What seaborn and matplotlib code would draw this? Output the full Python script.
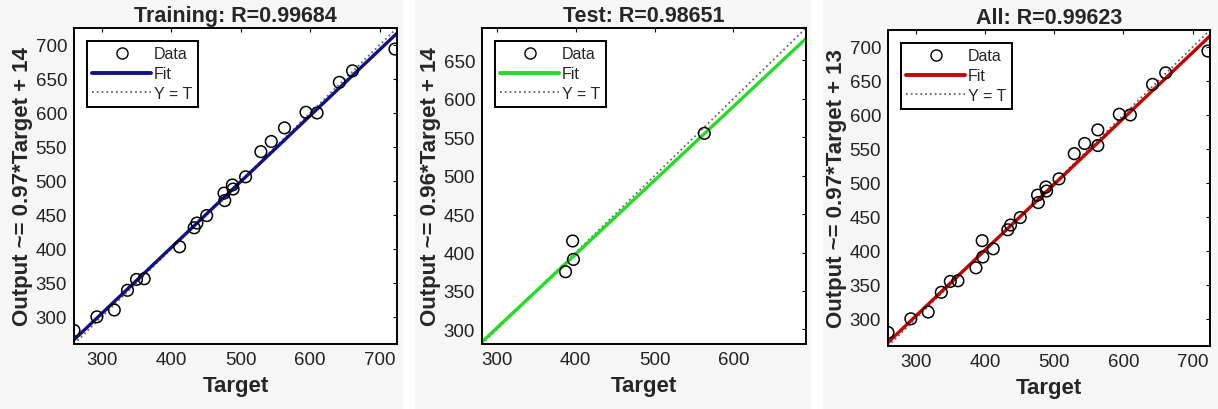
import matplotlib
matplotlib.use("Agg")
import matplotlib.pyplot as plt
from matplotlib.lines import Line2D
from matplotlib.patches import Rectangle
import seaborn as sns

# values
train_target = [260, 293, 318, 337, 350, 361, 412, 433, 437, 451, 476, 477,
                488, 489, 507, 529, 544, 563, 594, 610, 642, 661, 722]
train_output = [280, 300, 310, 339, 355, 356, 403, 431, 438, 449, 482, 471,
                494, 488, 506, 543, 558, 578, 601, 600, 645, 662, 694]
test_target = [387, 397, 396, 563]
test_output = [375, 391, 415, 555]
all_target = train_target + test_target
all_output = train_output + test_output

titles = ["Training: R=0.99684", "Test: R=0.98651", "All: R=0.99623"]
slopes = [0.97, 0.96, 0.97]
intercepts = [14, 14, 13]
limits = [(260, 725), (281, 692), (260, 725)]
xticks = [[300, 400, 500, 600, 700], [300, 400, 500, 600], [300, 400, 500, 600, 700]]
yticks = [list(range(300, 701, 50)), list(range(300, 651, 50)), list(range(300, 701, 50))]
fit_colors = ["#10108c", "#22dd22", "#c80000"]
targets = [train_target, test_target, all_target]
outputs = [train_output, test_output, all_output]

sns.set_style("white")
plt.rcParams["font.family"] = ["Liberation Sans", "DejaVu Sans"]

fig = plt.figure(figsize=(12.18, 4.10), dpi=100)
fig.patch.set_facecolor("#f6f6f6")
for x0 in [403, 811]:
    fig.patches.append(Rectangle((x0 / 1218, 0), 12 / 1218, 1, transform=fig.transFigure,
                                 facecolor="white", edgecolor="none", zorder=0))

positions = [
    [74 / 1218, 65 / 410, 323 / 1218, 316 / 410],
    [482 / 1218, 65 / 410, 324 / 1218, 316 / 410],
    [888 / 1218, 63 / 410, 322 / 1218, 316 / 410],
]

for i in range(3):
    ax = fig.add_axes(positions[i])
    ax.set_facecolor("white")
    lo, hi = limits[i]
    ends = [lo, hi]
    fit_y = [slopes[i] * v + intercepts[i] for v in ends]

    sns.lineplot(x=ends, y=ends, ax=ax, color="#666666", linestyle=":", linewidth=1.3)
    sns.lineplot(x=ends, y=fit_y, ax=ax, color=fit_colors[i], linewidth=2.4)
    sns.scatterplot(x=targets[i], y=outputs[i], ax=ax, marker="o", s=70,
                    facecolor="none", edgecolor="black", linewidth=1.1, zorder=5)

    ax.set_xlim(lo, hi)
    ax.set_ylim(lo, hi)
    ax.set_xticks(xticks[i])
    ax.set_yticks(yticks[i])
    ax.tick_params(direction="in", top=True, right=True, length=3, width=0.8,
                   labelsize=13.5, colors="black", pad=5)
    for lab in ax.get_xticklabels() + ax.get_yticklabels():
        lab.set_color("#222222")
    for sp in ax.spines.values():
        sp.set_color("black")
        sp.set_linewidth(1.4)

    ax.set_title(titles[i], fontsize=15.5, fontweight="bold", pad=5)
    ax.set_xlabel("Target", fontsize=16, fontweight="bold", labelpad=5)
    ax.set_ylabel("Output ~= %.2f*Target + %d" % (slopes[i], intercepts[i]),
                  fontsize=16, fontweight="bold", labelpad=2)

    handles = [
        Line2D([], [], marker="o", color="none", markerfacecolor="none",
               markeredgecolor="black", markersize=8),
        Line2D([], [], color=fit_colors[i], linewidth=2.8),
        Line2D([], [], color="#666666", linestyle=":", linewidth=1.3),
    ]
    leg = ax.legend(handles, ["Data", "Fit", "Y = T"], loc="upper left",
                    fontsize=11.5, frameon=True, fancybox=False, framealpha=1,
                    edgecolor="black", handlelength=3.7, handletextpad=0.15,
                    borderaxespad=0.8, labelspacing=0.3, borderpad=0.35)
    leg.get_frame().set_linewidth(1.4)

fig.savefig("out.png", dpi=100, facecolor=fig.get_facecolor())
